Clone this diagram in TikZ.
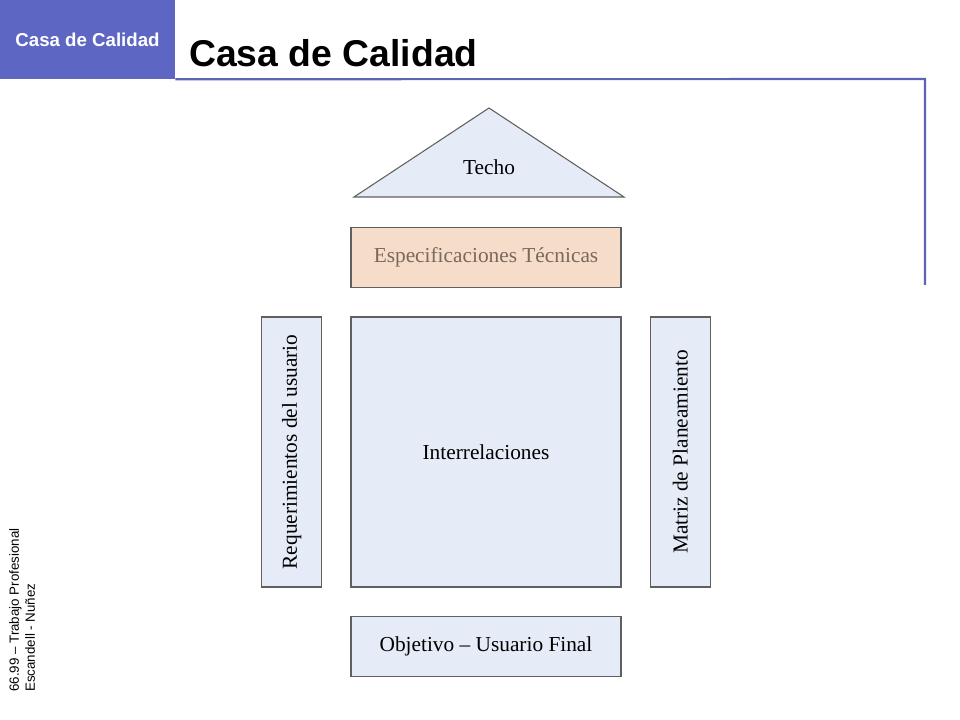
\documentclass[tikz,border=0pt]{standalone}
\usepackage{fontspec}
\setmainfont{Liberation Serif}
\newfontfamily\arialfont{Liberation Sans}
\usepackage{tikz}
\usetikzlibrary{positioning}
\definecolor{hdrblue}{RGB}{94,102,196}
\definecolor{lineblue}{RGB}{92,100,180}
\definecolor{boxblue}{RGB}{230,236,247}
\definecolor{boxpeach}{RGB}{245,221,202}
\definecolor{boxedge}{RGB}{96,96,96}
\definecolor{peachtext}{RGB}{122,104,90}

\begin{document}
\begin{tikzpicture}[x=0.75pt,y=-0.75pt,
          part/.style={draw=boxedge,fill=boxblue,line width=0.8pt,inner sep=0pt,outer sep=0pt,
            font=\fontsize{16}{19}\selectfont},
          wide/.style={part,minimum width=202.5pt,minimum height=45pt},
          tall/.style={part,minimum width=45pt,minimum height=202.5pt}
        ]
        \useasboundingbox[fill=white] (0,0) rectangle (960,720);
        % header
        \node[fill=hdrblue,minimum width=131.25pt,minimum height=59.25pt,inner sep=0pt,
          text=white,font=\arialfont\bfseries\fontsize{14}{16}\selectfont] (tab) at (87.5,39.5) {Casa de Calidad};
        \node[anchor=base west,inner sep=0pt,font=\arialfont\bfseries\fontsize{28}{32}\selectfont] (title) at (189,67) {Casa de Calidad};
        \draw[lineblue,line width=1.6pt] (tab.south east) -- (925,79) -- (925,285);
        % house
        \node[part,minimum width=202.5pt,minimum height=202.5pt] (inter) at (486,452) {Interrelaciones};
        \node[tall,left=22pt of inter] (req) {\rotatebox{90}{Requerimientos del usuario}};
        \node[tall,right=22pt of inter] (matriz) {\rotatebox{90}{Matriz de Planeamiento}};
        \node[wide,below=22pt of inter] (obj) {Objetivo – Usuario Final};
        \node[wide,above=22pt of inter,fill=boxpeach,text=peachtext] (spec) {Especificaciones Técnicas};
        \draw[part] (354,197) -- (489,108) -- (624,197) -- cycle;
        \node[font=\fontsize{16}{19}\selectfont] (techo) at (489,167) {Techo};
        % footer
        \node[rotate=90,anchor=north west,inner sep=0pt,align=left,
          font=\arialfont\fontsize{10}{12}\selectfont] (foot) at (9,692) {66.99 – Trabajo Profesional\\Escandell - Nuñez};
      \end{tikzpicture}
\end{document}
